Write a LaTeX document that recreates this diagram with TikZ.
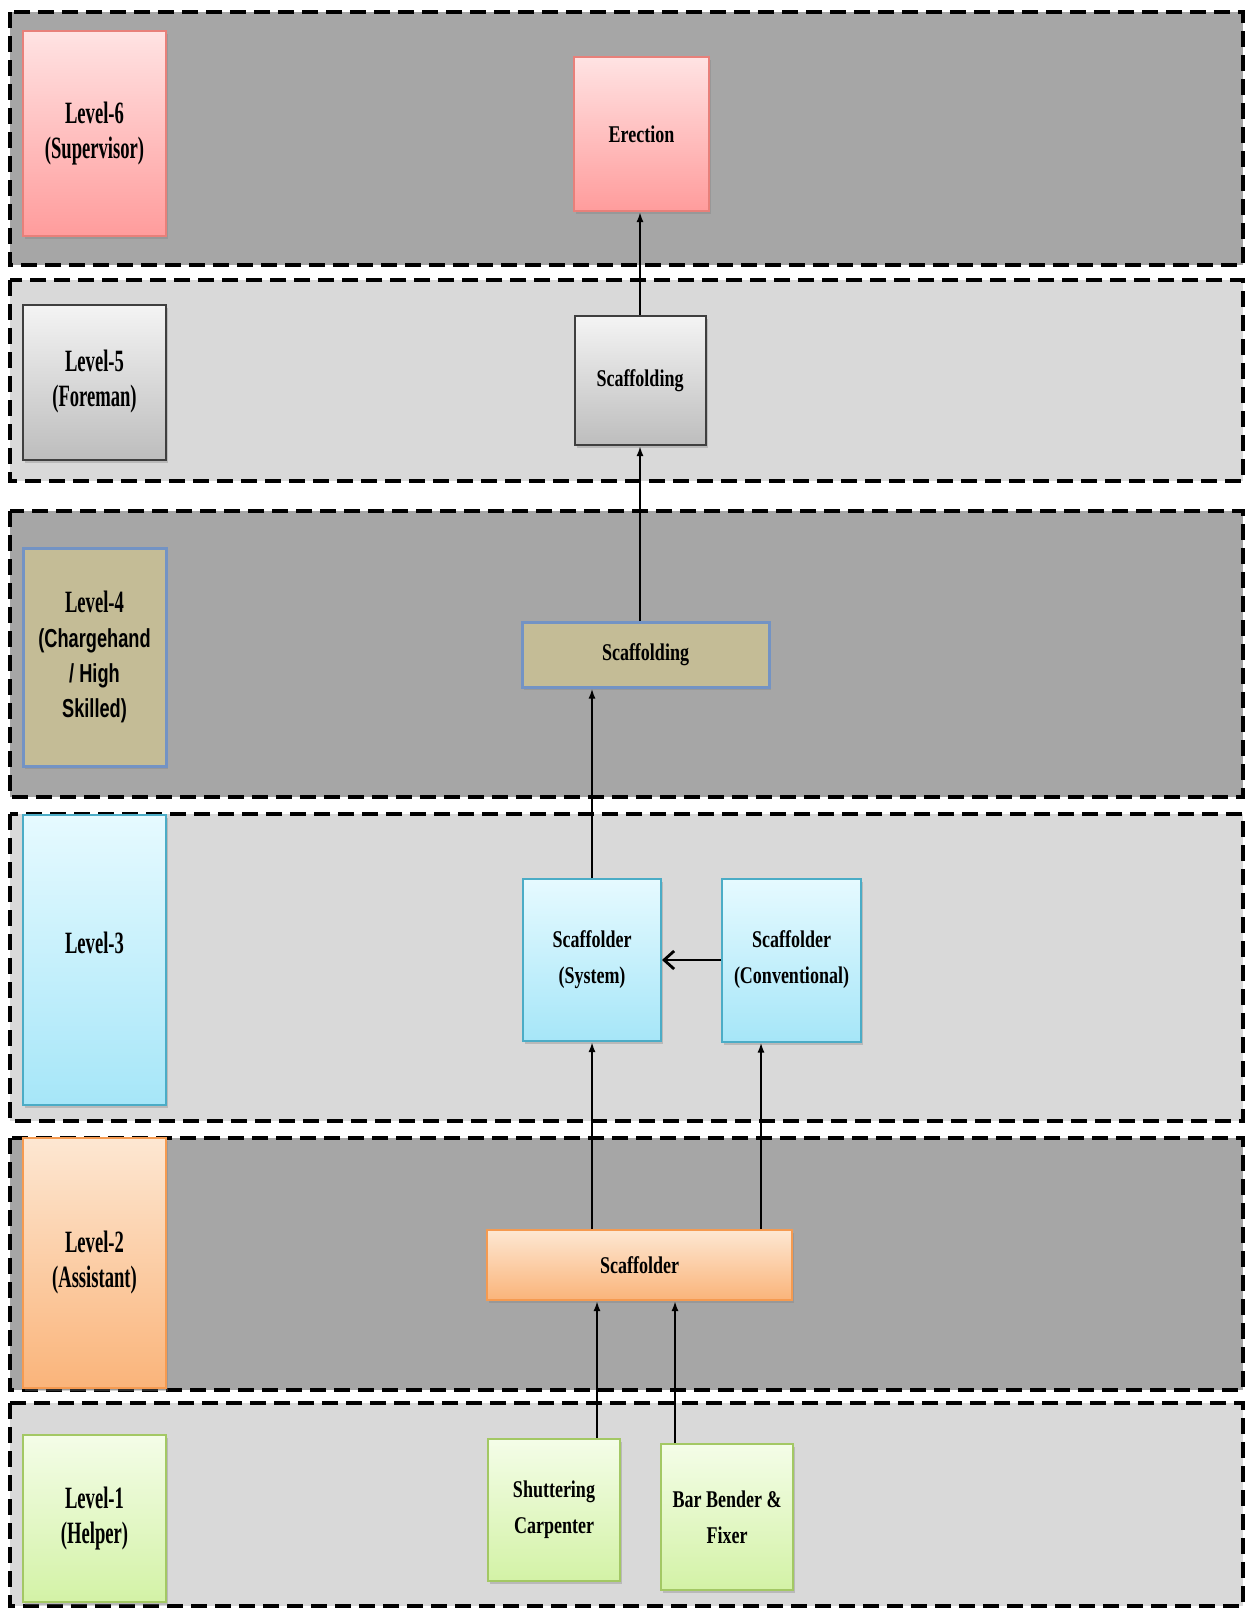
\documentclass[tikz,border=0pt]{standalone}
\usepackage{fontspec}
\newfontfamily\levfont[FakeStretch=0.6]{Liberation Serif}
\newfontfamily\levsans[FakeStretch=0.7]{Liberation Sans}
\newfontfamily\jobfont[FakeStretch=0.75]{Liberation Serif}
\usetikzlibrary{positioning,arrows.meta,shadows}

\definecolor{darkband}{HTML}{A6A6A6}
\definecolor{lightband}{HTML}{D9D9D9}
\definecolor{redtop}{HTML}{FFE3E3}
\definecolor{redbot}{HTML}{FF9C9C}
\definecolor{redline}{HTML}{E8807A}
\definecolor{greytop}{HTML}{F4F4F4}
\definecolor{greybot}{HTML}{BDBDBD}
\definecolor{greyline}{HTML}{3F3F3F}
\definecolor{khaki}{HTML}{C4BC96}
\definecolor{khakiline}{HTML}{7393C4}
\definecolor{cyantop}{HTML}{E6FAFF}
\definecolor{cyanbot}{HTML}{A6E6F8}
\definecolor{cyanline}{HTML}{4BACC6}
\definecolor{orangetop}{HTML}{FDE7D2}
\definecolor{orangebot}{HTML}{FAB47A}
\definecolor{orangeline}{HTML}{F59A50}
\definecolor{greentop}{HTML}{F4FDE8}
\definecolor{greenbot}{HTML}{D3F2A6}
\definecolor{greenline}{HTML}{A3C864}

\newcommand{\sansline}[1]{{\levsans\fontsize{13}{17.5}\selectfont #1}}

\begin{document}
\begin{tikzpicture}[
  x=0.5pt, y=-0.5pt,
  band/.style={draw=black, line width=2pt, dash pattern=on 8pt off 4pt},
  box/.style={rectangle, line width=1pt, align=center,
    drop shadow={shadow xshift=1pt, shadow yshift=-1.5pt, opacity=0.35}},
  lvl/.style={box, minimum width=71.5pt,
    font=\levfont\bfseries\fontsize{15.5}{17.5}\selectfont},
  job/.style={box, font=\jobfont\bfseries\fontsize{12}{18}\selectfont},
  redfill/.style={top color=redtop, bottom color=redbot, draw=redline},
  greyfill/.style={top color=greytop, bottom color=greybot, draw=greyline},
  khakifill/.style={fill=khaki, draw=khakiline, line width=1.5pt},
  cyanfill/.style={top color=cyantop, bottom color=cyanbot, draw=cyanline},
  orangefill/.style={top color=orangetop, bottom color=orangebot, draw=orangeline},
  greenfill/.style={top color=greentop, bottom color=greenbot, draw=greenline},
  up/.style={-{Latex[length=5pt,width=3.5pt]}, line width=1.4pt},
  side/.style={-{Straight Barb[length=5pt,width=9pt]}, line width=1.4pt}
]
  \fill[white] (0,0) rectangle (1246,1612);
  \useasboundingbox (0,0) rectangle (1246,1612);

  % level bands
  \foreach \top/\bot/\shade in {12/265/darkband, 280/481/lightband, 511/797/darkband,
      814/1121/lightband, 1138/1390/darkband, 1403/1606/lightband}
    \draw[band, fill=\shade] (10,\top) rectangle (1243,\bot);

  % levels
  \node[lvl, redfill, minimum height=102.5pt] (lv6) at (94.5,133.5) {Level-6\\(Supervisor)};
  \node[lvl, greyfill, minimum height=77.5pt] (lv5) at (94.5,382) {Level-5\\(Foreman)};
  \node[lvl, khakifill, minimum height=109pt] (lv4) at (94.5,657)
    {Level-4\\\sansline{(Chargehand}\\\sansline{/ High}\\\sansline{Skilled)}};
  \node[lvl, cyanfill, minimum height=145pt] (lv3) at (94.5,960) {Level-3\\\mbox{}};
  \node[lvl, orangefill, minimum height=125pt] (lv2) at (94.5,1263) {Level-2\\(Assistant)};
  \node[lvl, greenfill, minimum height=83.5pt] (lv1) at (94.5,1518.5) {Level-1\\(Helper)};

  % jobs
  \node[job, redfill, minimum width=67.5pt, minimum height=77pt] (erection) at (641.5,134) {Erection};
  \node[job, greyfill, minimum width=65.5pt, minimum height=64.5pt] (scaf5) at (640,380.5) {Scaffolding};
  \node[job, khakifill, minimum width=123.5pt, minimum height=32.5pt] (scaf4) at (645.5,654.5) {Scaffolding};
  \node[job, cyanfill, minimum width=69pt, minimum height=81pt] (system) at (592,960) {Scaffolder\\(System)};
  \node[job, cyanfill, minimum width=69.5pt, minimum height=81.5pt, right=29.5pt of system] (conv) {Scaffolder\\(Conventional)};
  \node[job, orangefill, minimum width=152.5pt, minimum height=35pt] (scaf2) at (639.5,1265) {Scaffolder};
  \node[job, greenfill, minimum width=66pt, minimum height=71pt] (shutter) at (554,1510) {Shuttering\\Carpenter};
  \node[job, greenfill, minimum width=66pt, minimum height=73pt, right=19.5pt of shutter, yshift=-3.5pt] (barbender) {Bar Bender \&\\Fixer};

  % links
  \draw[up] (scaf5.north) -- (scaf5.north |- erection.south);
  \draw[up] (scaf5.south |- scaf4.north) -- (scaf5.south);
  \draw[up] (system.north) -- (system.north |- scaf4.south);
  \draw[side] (conv.west) -- (conv.west -| system.east);
  \draw[up] (system.south |- scaf2.north) -- (system.south);
  \draw[up] ([xshift=-15.25pt]conv.south |- scaf2.north) -- ([xshift=-15.25pt]conv.south);
  \draw[up] ([xshift=21.5pt]shutter.north) -- ([xshift=21.5pt]shutter.north |- scaf2.south);
  \draw[up] ([xshift=-26pt]barbender.north) -- ([xshift=-26pt]barbender.north |- scaf2.south);
\end{tikzpicture}
\end{document}
